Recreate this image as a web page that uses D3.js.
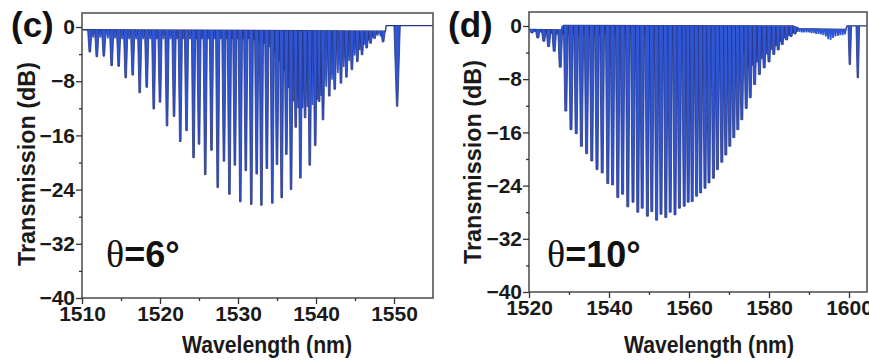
<!DOCTYPE html>
<html>
<head>
<meta charset="utf-8">
<script src="https://cdn.jsdelivr.net/npm/d3@7"></script>
<style>
  body { margin: 0; background: #ffffff; }
  svg { display: block; font-family: Arial, "Liberation Sans", sans-serif; }
</style>
</head>
<body>
<svg id="fig" width="869" height="363"></svg>
<script>
// ---------- (c) θ = 6° ----------
// main cladding-mode resonances: [wavelength (nm), transmission (dB)]
const cDips = [
  [1511.0,-3.7],[1511.9,-4.4],[1512.8,-4.3],[1513.8,-5.7],[1514.7,-5.8],[1515.6,-7.5],
  [1516.5,-7.1],[1517.4,-9.7],[1518.3,-8.9],[1519.2,-12.1],[1520.0,-11.1],[1520.9,-14.6],
  [1521.8,-13.2],[1522.6,-16.9],[1523.4,-15.3],[1524.3,-19.3],[1525.0,-17.3],[1525.8,-21.8],
  [1526.6,-18.2],[1527.4,-23.7],[1528.2,-19.8],[1528.9,-24.7],[1529.6,-20.4],[1530.3,-25.8],
  [1531.0,-21.2],[1531.7,-26.2],[1532.4,-21.7],[1533.0,-26.3],[1533.7,-20.9],[1534.4,-26.0],
  [1535.0,-20.3],[1535.6,-25.2],[1536.2,-18.8],[1536.8,-24.0],[1537.4,-14.8],[1538.0,-22.3],
  [1538.6,-13.4],[1539.2,-20.4],[1539.9,-17.5],[1540.4,-11.0],[1540.9,-13.7],[1541.7,-10.2],
  [1542.4,-9.2],[1543.2,-8.3],[1543.9,-7.4],[1544.6,-6.3],[1545.3,-5.1],[1545.9,-4.1],
  [1546.5,-3.1],[1547.0,-2.4],[1547.5,-1.7],[1548.6,-2.2]
];
// weaker resonances lying between the main ones
const cMinor = [
  [1511.45,-1.6],[1512.35,-1.6],[1513.3,-1.7],[1514.25,-1.7],[1515.15,-1.8],[1516.05,-1.8],
  [1516.95,-1.8],[1517.85,-1.8],[1518.75,-1.8],[1519.6,-1.8],[1520.45,-1.8],[1521.35,-1.8],
  [1522.2,-1.8],[1523.0,-1.8],[1523.85,-1.8],[1524.65,-1.8],[1525.4,-1.8],[1526.2,-1.8],
  [1527.0,-1.8],[1527.8,-1.8],[1528.55,-1.8],[1529.25,-1.8],[1529.95,-1.8],[1530.65,-1.8],
  [1531.35,-1.8],[1532.05,-2.0],[1532.7,-2.2],[1533.35,-2.5],[1534.05,-3.0],[1534.7,-3.8],
  [1535.3,-5.0],[1535.9,-6.5],[1536.5,-9.0],[1537.1,-11.0],[1537.7,-12.0],[1538.3,-12.0],
  [1538.9,-11.8],[1539.55,-11.5],[1540.15,-10.8],[1540.65,-10.2],[1541.3,-8.8],[1542.05,-7.8],
  [1542.8,-6.8],[1543.55,-5.9],[1544.25,-5.0],[1544.95,-4.2],[1545.6,-3.4],[1546.2,-2.6],
  [1546.75,-2.0],[1547.25,-1.5],[1547.9,-1.3],[1548.3,-1.4]
];
// Bragg resonance
const cBragg = [[1550.4,-11.7]];
// off-resonance transmission level: [wavelength (nm), dB]
const cLevel = [[1510,-0.4],[1548.9,-0.6],[1549.0,0.2],[1555,0.2]];

// ---------- (d) θ = 10° ----------
const dDips = [
  [1520.75,-1.05],[1522.2,-1.8],[1523.7,-2.3],[1524.9,-3.1],[1526.3,-3.8],[1527.8,-6.2],
  [1529.2,-12.8],[1530.5,-15.6],[1531.8,-16.2],[1533.1,-18.1],[1534.4,-19.2],[1535.7,-20.3],
  [1537.0,-21.6],[1538.3,-22.1],[1539.7,-23.7],[1540.9,-23.9],[1542.2,-25.8],[1543.4,-25.3],
  [1544.7,-27.2],[1546.0,-26.5],[1547.2,-28.0],[1548.3,-27.4],[1549.6,-28.6],[1550.7,-27.9],
  [1551.9,-29.2],[1553.0,-28.3],[1554.2,-28.8],[1555.3,-28.0],[1556.5,-28.4],[1557.6,-27.4],
  [1558.8,-27.1],[1559.8,-26.5],[1560.8,-26.4],[1561.9,-25.6],[1562.9,-25.1],[1564.0,-24.4],
  [1565.0,-23.6],[1566.1,-22.9],[1567.1,-21.6],[1568.2,-20.5],[1569.2,-19.4],[1570.2,-18.1],
  [1571.2,-16.8],[1572.2,-15.6],[1573.2,-14.1],[1574.3,-12.4],[1575.3,-10.8],[1576.4,-8.8],
  [1577.6,-7.3],[1578.8,-6.3],[1580.0,-5.4],[1581.2,-4.3],[1582.3,-3.6],[1583.3,-2.8],
  [1584.4,-2.1],[1585.5,-1.6],[1586.5,-1.2]
];
const dMinor = [
  [1521.5,-0.9],[1523.0,-1.0],[1524.3,-1.1],[1525.6,-1.2],[1527.0,-1.3],[1528.5,-1.2],
  [1529.85,-1.3],[1531.15,-1.3],[1532.45,-1.3],[1533.75,-1.3],[1535.05,-1.3],[1536.35,-1.3],
  [1537.65,-1.3],[1539.0,-1.3],[1540.3,-1.3],[1541.55,-1.3],[1542.8,-1.3],[1544.05,-1.3],
  [1545.35,-1.3],[1546.6,-1.3],[1547.75,-1.3],[1548.95,-1.3],[1550.15,-1.3],[1551.3,-1.3],
  [1552.45,-1.3],[1553.6,-1.3],[1554.75,-1.3],[1555.9,-1.3],[1557.05,-1.3],[1558.2,-1.3],
  [1559.3,-1.3],[1560.3,-1.3],[1561.35,-1.3],[1562.4,-1.3],[1563.45,-1.3],[1564.5,-1.3],
  [1565.55,-1.3],[1566.6,-1.3],[1567.65,-1.3],[1568.7,-1.3],[1569.7,-1.3],[1570.7,-1.5],
  [1571.7,-2.0],[1572.7,-2.5],[1573.75,-4.0],[1574.8,-6.0],[1575.85,-6.0],[1577.0,-5.5],
  [1578.2,-5.0],[1579.4,-4.3],[1580.6,-3.6],[1581.75,-3.0],[1582.8,-2.4],[1583.85,-1.9],
  [1584.95,-1.5],[1586.0,-1.1],[1587.0,-0.9],[1587.6,-0.9],[1588.2,-1.0],[1588.8,-1.0],
  [1589.4,-1.0],[1590.0,-1.0],[1590.6,-1.1],[1591.2,-1.1],[1591.8,-1.2],[1592.4,-1.2],
  [1593.0,-1.3],[1593.6,-1.4],[1594.2,-1.6],[1594.8,-2.0],[1595.4,-2.1],[1596.0,-1.8],
  [1596.6,-1.6],[1597.2,-1.5],[1597.8,-1.4],[1598.4,-1.4],[1599.0,-1.3]
];
const dBragg = [[1600.2,-5.8],[1602.2,-7.8]];
const dLevel = [[1520,-0.5],[1528.0,-0.6],[1528.6,0.1],[1586,0.0],[1587.5,-0.4],[1599.2,-0.5],[1599.5,0.0],[1604.5,0.0]];

// ---------- axes ----------
const yTicks = [0,-8,-16,-24,-32,-40];
const yMinor = [-4,-12,-20,-28,-36];
const cXTicks = [1510,1520,1530,1540,1550];
const cXMinor = [1515,1525,1535,1545];
const dXTicks = [1520,1540,1560,1580,1600];
const dXMinor = [1530,1550,1570,1590];

const svg = d3.select("#fig");
const BLUE = "#2f56d4", EDGE = "#27347e", INK = "#1a1a1a";

function panel(o) {
  const x = d3.scaleLinear().domain(o.xDomain).range([o.left, o.right]);
  const y = d3.scaleLinear().domain([-40, o.yTop]).range([o.bottom, o.top]);
  const level = d3.scaleLinear().domain(o.level.map(d => d[0])).range(o.level.map(d => d[1])).clamp(true);
  const g = svg.append("g");

  // off-resonance level
  g.append("path")
    .attr("d", d3.line().x(d => x(d[0])).y(d => y(d[1]))(o.level))
    .attr("fill", "none").attr("stroke", EDGE).attr("stroke-width", 1.3);

  // each resonance is a narrow notch hanging from the off-resonance level
  function dips(data, a, b, edge) {
    const sel = g.append("g").selectAll("g").data(data).join("g");
    const shape = d => {
      const cx = x(d[0]), yb = y(level(d[0])), yd = y(d[1]);
      return [[cx - a, yb], [cx - b, yd], [cx + b, yd], [cx + a, yb]];
    };
    sel.append("path")
      .attr("d", d => "M" + shape(d).join("L") + "Z")
      .attr("fill", BLUE);
    if (edge > 0) {
      sel.append("path")
        .attr("d", d => "M" + shape(d).join("L"))
        .attr("fill", "none").attr("stroke", EDGE).attr("stroke-width", edge);
    }
  }
  dips(o.minor, o.minorW, 0.8, 0);
  dips(o.dips, o.dipA, o.dipB, 0.8);
  dips(o.bragg, o.braggW, 0.7, 0.8);

  // frame
  g.append("rect").attr("x", o.left).attr("y", o.top)
    .attr("width", o.right - o.left).attr("height", o.bottom - o.top)
    .attr("fill", "none").attr("stroke", "#555").attr("stroke-width", 1.6);

  const axStyle = s => {
    s.select(".domain").remove();
    s.selectAll("line").attr("stroke", "#333").attr("stroke-width", 1.3);
    s.selectAll("text").attr("fill", INK).attr("font-weight", "bold")
      .attr("font-size", 21).attr("font-family", "Arial, 'Liberation Sans', sans-serif");
  };
  g.append("g").attr("transform", `translate(${o.left},0)`)
    .call(d3.axisLeft(y).tickValues(yTicks).tickSize(6).tickPadding(1)).call(axStyle);
  g.append("g").attr("transform", `translate(${o.left},0)`)
    .call(d3.axisLeft(y).tickValues(yMinor).tickSize(3).tickFormat("")).call(axStyle);
  g.append("g").attr("transform", `translate(0,${o.bottom})`)
    .call(d3.axisBottom(x).tickValues(o.xTicks).tickSize(6).tickPadding(2).tickFormat(d3.format("d"))).call(axStyle);
  g.append("g").attr("transform", `translate(0,${o.bottom})`)
    .call(d3.axisBottom(x).tickValues(o.xMinor).tickSize(3).tickFormat("")).call(axStyle);

  // titles
  g.append("text")
    .attr("transform", `translate(${o.yTitleX},${o.yTitleY}) rotate(-90)`)
    .attr("text-anchor", "middle").attr("font-weight", "bold").attr("font-size", 23)
    .attr("textLength", 204).attr("lengthAdjust", "spacingAndGlyphs")
    .attr("fill", INK).text("Transmission (dB)");
  g.append("text")
    .attr("x", o.xTitleX).attr("y", 353)
    .attr("text-anchor", "middle").attr("font-weight", "bold").attr("font-size", 23)
    .attr("textLength", 170).attr("lengthAdjust", "spacingAndGlyphs")
    .attr("fill", INK).text("Wavelength (nm)");
  g.append("text")
    .attr("x", o.tagX).attr("y", 37)
    .attr("font-weight", "bold").attr("font-size", 35)
    .attr("fill", "#111").text(o.tag);
  const th = g.append("text").attr("x", o.angleX).attr("y", 267).attr("fill", "#111");
  th.append("tspan").attr("font-family", "'Liberation Serif', 'Times New Roman', serif")
    .attr("font-size", 38).text("θ");
  th.append("tspan").attr("font-weight", "bold").attr("font-size", 36).text(o.angle);
}

panel({
  xDomain: [1510, 1555], left: 82, right: 433, top: 13, bottom: 298, yTop: 2.07,
  dips: cDips, dipA: 2.2, dipB: 0.8, minor: cMinor, minorW: 2.2, bragg: cBragg, braggW: 3.2, level: cLevel,
  xTicks: cXTicks, xMinor: cXMinor, yTitleX: 35, yTitleY: 164, xTitleX: 267,
  tag: "(c)", tagX: 11, angle: "=6°", angleX: 106
});
panel({
  xDomain: [1520, 1604.5], left: 529, right: 867, top: 12, bottom: 292, yTop: 2.1,
  dips: dDips, dipA: 2.4, dipB: 1.0, minor: dMinor, minorW: 1.8, bragg: dBragg, braggW: 1.8, level: dLevel,
  xTicks: dXTicks, xMinor: dXMinor, yTitleX: 481, yTitleY: 162, xTitleX: 709,
  tag: "(d)", tagX: 448, angle: "=10°", angleX: 547
});
</script>
</body>
</html>
